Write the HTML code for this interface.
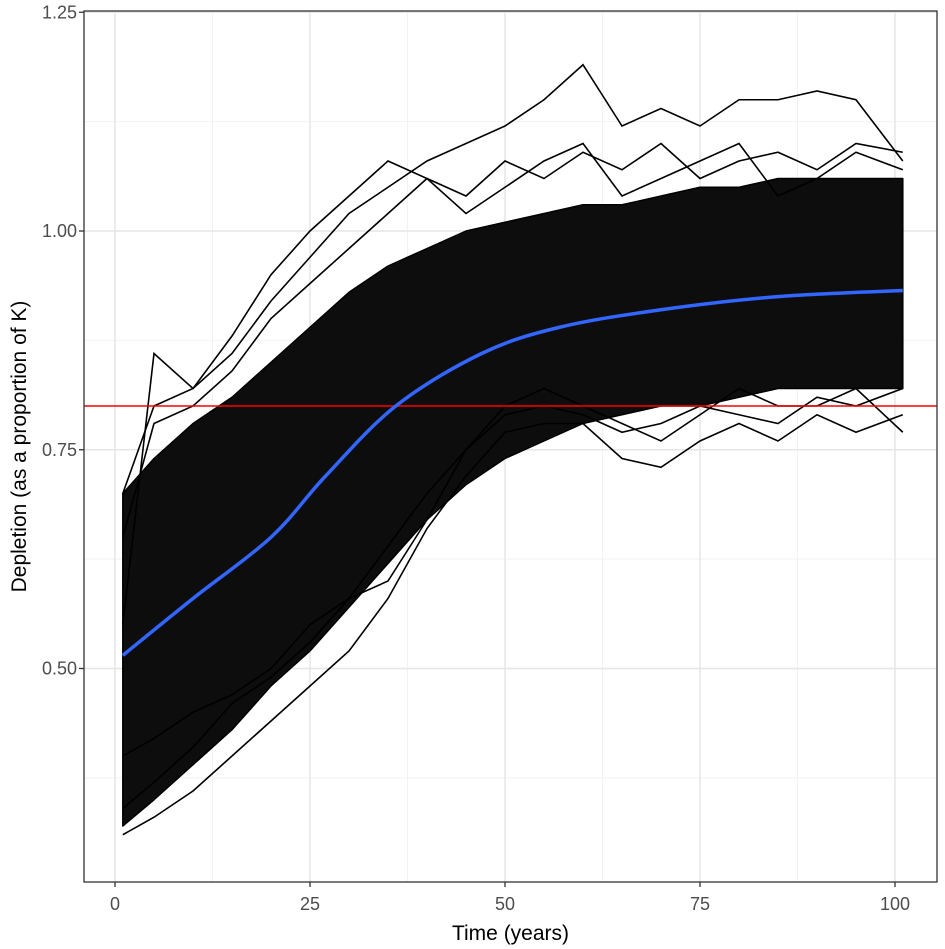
<!DOCTYPE html>
<html><head><meta charset="utf-8"><style>
html,body{margin:0;padding:0;background:#fff}
svg{display:block;font-family:"Liberation Sans",Arial,sans-serif}
</style></head><body>
<svg id="chart" width="945" height="949"></svg>
<script>
const T=[1,5,10,15,20,25,30,35,40,45,50,55,60,65,70,75,80,85,90,95,101];
const upperDense=[0.70,0.74,0.78,0.81,0.85,0.89,0.93,0.96,0.98,1.00,1.01,1.02,1.03,1.03,1.04,1.05,1.05,1.06,1.06,1.06,1.06];
const lowerDense=[0.32,0.35,0.39,0.43,0.48,0.52,0.57,0.62,0.67,0.71,0.74,0.76,0.78,0.79,0.80,0.80,0.81,0.82,0.82,0.82,0.82];
const lineA=[0.70,0.80,0.82,0.86,0.92,0.97,1.02,1.05,1.08,1.10,1.12,1.15,1.19,1.12,1.14,1.12,1.15,1.15,1.16,1.15,1.08];
const lineB=[0.31,0.33,0.36,0.40,0.44,0.48,0.52,0.58,0.66,0.72,0.77,0.78,0.78,0.74,0.73,0.76,0.78,0.76,0.79,0.77,0.79];
const lineC=[0.55,0.86,0.82,0.88,0.95,1.00,1.04,1.08,1.06,1.02,1.05,1.08,1.10,1.04,1.06,1.08,1.10,1.04,1.06,1.09,1.07];
const lineD=[0.40,0.42,0.45,0.47,0.50,0.55,0.58,0.60,0.67,0.75,0.80,0.82,0.80,0.78,0.76,0.79,0.82,0.80,0.80,0.82,0.77];
const lineE=[0.65,0.78,0.80,0.84,0.90,0.94,0.98,1.02,1.06,1.04,1.08,1.06,1.09,1.07,1.10,1.06,1.08,1.09,1.07,1.10,1.09];
const lineF=[0.34,0.37,0.41,0.46,0.49,0.53,0.58,0.64,0.70,0.75,0.79,0.80,0.79,0.77,0.78,0.80,0.79,0.78,0.81,0.80,0.82];
const smoothT=[1,10,20,27,36,47,57,70,85,101];
const smoothV=[0.515,0.58,0.65,0.72,0.80,0.86,0.89,0.91,0.925,0.932];
const refLine=0.80;
const xTicks=[0,25,50,75,100];
const yTicks=[0.50,0.75,1.00,1.25];
const yLabels=["0.50","0.75","1.00","1.25"];

const NS="http://www.w3.org/2000/svg";
const svg=document.getElementById('chart');
const L=84,R=937,TOP=11,BOT=882;
const x=v=>115+7.8*v;
const y=v=>231+(1-v)*875;
function mk(tag,attrs,parent){const e=document.createElementNS(NS,tag);for(const k in attrs)e.setAttribute(k,attrs[k]);(parent||svg).appendChild(e);return e;}

let e=mk('rect',{x:L,y:TOP,width:R-L,height:BOT-TOP,fill:'#fff'});


[12.5,37.5,62.5,87.5].forEach(v=>{const g=mk('line',{x1:x(v),x2:x(v),y1:TOP,y2:BOT,stroke:'#f2f2f2','stroke-width':1});});
[0.375,0.625,0.875,1.125].forEach(v=>{const g=mk('line',{x1:L,x2:R,y1:y(v),y2:y(v),stroke:'#f2f2f2','stroke-width':1});});
xTicks.forEach(v=>{const g=mk('line',{x1:x(v),x2:x(v),y1:TOP,y2:BOT,stroke:'#e6e6e6','stroke-width':1.5});});
yTicks.forEach(v=>{const g=mk('line',{x1:L,x2:R,y1:y(v),y2:y(v),stroke:'#e6e6e6','stroke-width':1.5});});

let pts=T.map((t,i)=>x(t)+','+y(upperDense[i])).concat(T.map((t,i)=>x(t)+','+y(lowerDense[i])).reverse());
e=mk('polygon',{points:pts.join(' '),fill:'#0d0d0d',stroke:'#000','stroke-width':1.5,'stroke-linejoin':'round'});


[[lineA,'trajectory-high'],[lineB,'trajectory-low'],[lineC,'trajectory-upper'],[lineD,'trajectory-lower'],[lineE,'trajectory-upper-mid'],[lineF,'trajectory-lower-mid']].forEach(([arr,n])=>{
  const p=mk('polyline',{points:T.map((t,i)=>x(t)+','+y(arr[i])).join(' '),fill:'none',stroke:'#000','stroke-width':1.6});
  
  
});
e=mk('line',{x1:L,x2:R,y1:y(refLine),y2:y(refLine),stroke:'#ff0000','stroke-width':1.6});


const sp=smoothT.map((t,i)=>[x(t),y(smoothV[i])]);
let d='M'+sp[0][0]+','+sp[0][1];
for(let i=0;i<sp.length-1;i++){const p0=sp[Math.max(0,i-1)],p1=sp[i],p2=sp[i+1],p3=sp[Math.min(sp.length-1,i+2)];
 d+=` C${p1[0]+(p2[0]-p0[0])/6},${p1[1]+(p2[1]-p0[1])/6} ${p2[0]-(p3[0]-p1[0])/6},${p2[1]-(p3[1]-p1[1])/6} ${p2[0]},${p2[1]}`;}
e=mk('path',{d:d,fill:'none',stroke:'#3366ff','stroke-width':3.5});



e=mk('rect',{x:L,y:TOP,width:R-L,height:BOT-TOP,fill:'none',stroke:'#333','stroke-width':1.3});


xTicks.forEach(v=>{
  const t=mk('line',{x1:x(v),x2:x(v),y1:BOT,y2:BOT+5,stroke:'#333','stroke-width':1.3});
  
  const l=mk('text',{x:x(v),y:BOT+28,'text-anchor':'middle','font-size':18,fill:'#4d4d4d'});l.textContent=v;
  
});
yTicks.forEach((v,i)=>{
  const t=mk('line',{x1:L-5,x2:L,y1:y(v),y2:y(v),stroke:'#333','stroke-width':1.3});
  
  const l=mk('text',{x:L-7,y:y(v)+6,'text-anchor':'end','font-size':18,fill:'#4d4d4d'});l.textContent=yLabels[i];
  
});
e=mk('text',{x:(L+R)/2,y:940,'text-anchor':'middle','font-size':21,fill:'#000'});e.textContent='Time (years)';


e=mk('text',{x:0,y:0,'text-anchor':'middle','font-size':21,fill:'#000',transform:`translate(26,${(TOP+BOT)/2}) rotate(-90)`});e.textContent='Depletion (as a proportion of K)';


</script>
</body></html>
